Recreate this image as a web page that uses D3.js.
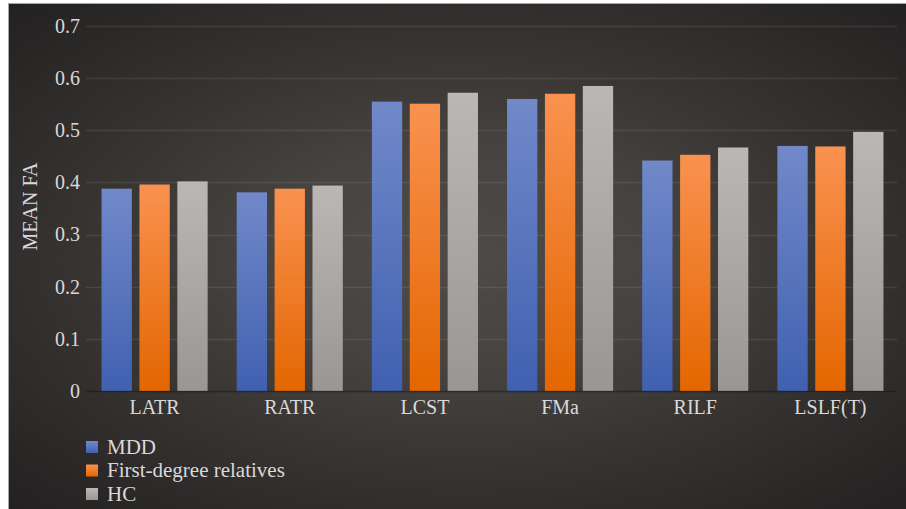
<!DOCTYPE html>
<html>
<head>
<meta charset="utf-8">
<script src="https://cdn.jsdelivr.net/npm/d3@7"></script>
<style>
  html, body { margin: 0; padding: 0; background: #ffffff; }
  svg { display: block; }
  text { font-family: "Liberation Serif", "DejaVu Serif", serif; fill: #d9d9d9; }
</style>
</head>
<body>
<svg id="chart" width="906" height="509"></svg>
<script>
// Mean FA per tract and group
const categories = ["LATR", "RATR", "LCST", "FMa", "RILF", "LSLF(T)"];
const seriesNames = ["MDD", "First-degree relatives", "HC"];
const mddValues = [0.388, 0.381, 0.555, 0.560, 0.442, 0.470];
const relativeValues = [0.396, 0.388, 0.551, 0.570, 0.453, 0.469];
const hcValues = [0.402, 0.394, 0.572, 0.585, 0.467, 0.497];
const yTicks = [0, 0.1, 0.2, 0.3, 0.4, 0.5, 0.6, 0.7];

const seriesValues = [mddValues, relativeValues, hcValues];
const gradients = [
  ["#7189c9", "#4060b0"],
  ["#f99250", "#e46600"],
  ["#bab7b4", "#9a9694"]
];
const fontStack = '"Liberation Serif", "DejaVu Serif", serif';

const svg = d3.select("#chart");
const defs = svg.append("defs");

// Dark backdrop with a soft light spot in the middle
const bg = defs.append("radialGradient").attr("id", "bg")
  .attr("cx", 0.5).attr("cy", 0.5).attr("r", 0.72);
[[0, "#4d4a48"], [0.3, "#464341"], [0.55, "#383533"], [1, "#222020"]]
  .forEach(([o, c]) => bg.append("stop").attr("offset", o).attr("stop-color", c));

gradients.forEach((g, i) => {
  const lg = defs.append("linearGradient").attr("id", "bar" + i)
    .attr("x1", 0).attr("y1", 0).attr("x2", 0).attr("y2", 1);
  lg.append("stop").attr("offset", 0).attr("stop-color", g[0]);
  lg.append("stop").attr("offset", 1).attr("stop-color", g[1]);
});

svg.append("rect")
  .attr("x", 8.5).attr("y", 3.5).attr("width", 906).attr("height", 506)
  .attr("fill", "url(#bg)")
  .attr("stroke", "#a6a6a6").attr("stroke-width", 1);

const plot = { left: 86, right: 897, top: 26, bottom: 391 };

const y = d3.scaleLinear().domain([0, 0.7]).range([plot.bottom, plot.top]);
const x0 = d3.scaleBand().domain(categories).range([plot.left, plot.right]);
const groupWidth = x0.bandwidth() * 0.785;
const x1 = d3.scaleBand().domain(d3.range(seriesNames.length))
  .range([0, groupWidth]).paddingInner(0.2);

// Gridlines
svg.append("g")
  .selectAll("line")
  .data(yTicks.filter(d => d > 0))
  .join("line")
  .attr("x1", plot.left).attr("x2", plot.right)
  .attr("y1", d => Math.round(y(d)) + 0.5).attr("y2", d => Math.round(y(d)) + 0.5)
  .attr("stroke", "rgba(255,255,255,0.09)").attr("stroke-width", 1.5);

// Y axis labels
const yAxis = d3.axisLeft(y).tickValues(yTicks)
  .tickFormat(d => d === 0 ? "0" : d3.format(".1f")(d))
  .tickSize(0).tickPadding(6);
const yg = svg.append("g").attr("transform", `translate(${plot.left},0)`).call(yAxis)
  .attr("font-family", fontStack);
yg.select(".domain").remove();
yg.selectAll("text").attr("font-size", 20).attr("fill", "#d9d9d9");

// Bars
const groups = svg.append("g").selectAll("g")
  .data(categories)
  .join("g")
  .attr("transform", c => `translate(${x0(c) + (x0.bandwidth() - groupWidth) / 2 + 1},0)`);

groups.selectAll("rect")
  .data((c, ci) => seriesValues.map((vals, si) => ({ si, v: vals[ci] })))
  .join("rect")
  .attr("x", d => x1(d.si))
  .attr("width", x1.bandwidth())
  .attr("y", d => y(d.v))
  .attr("height", d => y(0) - y(d.v))
  .attr("fill", d => `url(#bar${d.si})`);

// Baseline
svg.append("line")
  .attr("x1", plot.left).attr("x2", plot.right)
  .attr("y1", plot.bottom + 0.5).attr("y2", plot.bottom + 0.5)
  .attr("stroke", "rgba(20,18,16,0.45)").attr("stroke-width", 1.5);

// X axis labels
const xAxis = d3.axisBottom(x0).tickSize(0).tickPadding(9);
const xg = svg.append("g").attr("transform", `translate(1,${plot.bottom})`).call(xAxis)
  .attr("font-family", fontStack);
xg.select(".domain").remove();
xg.selectAll("text").attr("font-size", 20).attr("fill", "#d9d9d9");

// Y axis title
svg.append("text")
  .attr("transform", `translate(37,${(plot.top + plot.bottom) / 2 - 2}) rotate(-90)`)
  .attr("text-anchor", "middle")
  .attr("font-family", fontStack)
  .attr("font-size", 20)
  .text("MEAN FA");

// Legend
const legend = svg.append("g").attr("transform", "translate(86,441)")
  .attr("font-family", fontStack);
const rows = legend.selectAll("g").data(seriesNames).join("g")
  .attr("transform", (d, i) => `translate(0,${i * 23.5})`);
rows.append("rect")
  .attr("width", 12).attr("height", 12)
  .attr("fill", (d, i) => `url(#bar${i})`);
rows.append("text")
  .attr("x", 21).attr("y", 12.5)
  .attr("font-size", 21)
  .text(d => d);
</script>
</body>
</html>
